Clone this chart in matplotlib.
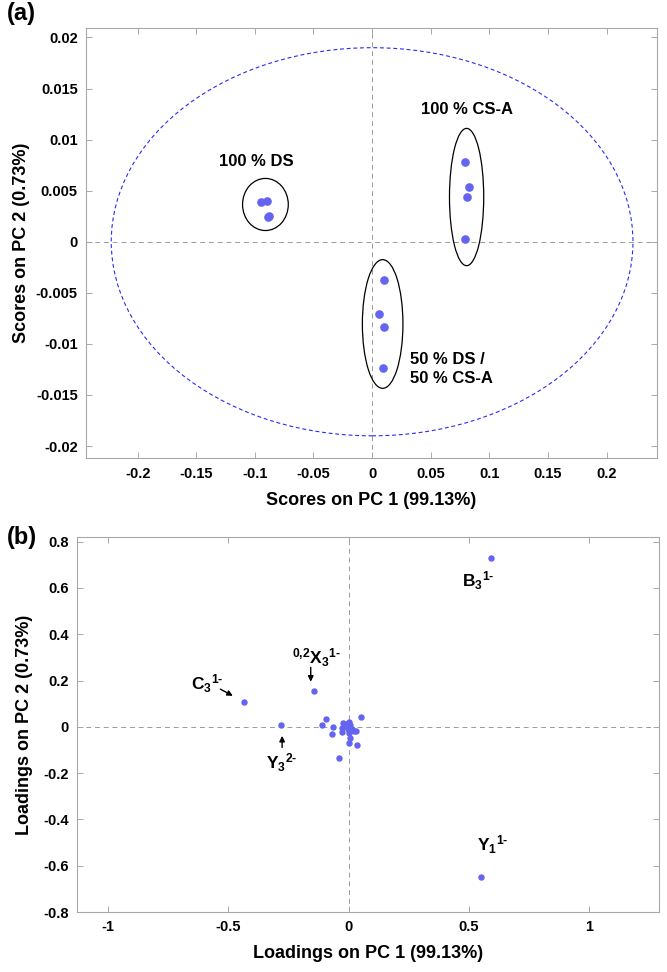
import numpy as np
import matplotlib
matplotlib.use("Agg")
import matplotlib.pyplot as plt
from matplotlib.patches import Ellipse

plt.rcParams['font.family'] = ['Liberation Sans', 'DejaVu Sans']
plt.rcParams['font.weight'] = 'bold'
plt.rcParams['mathtext.fontset'] = 'custom'
plt.rcParams['mathtext.bf'] = 'Liberation Sans:bold'
plt.rcParams['mathtext.rm'] = 'Liberation Sans:bold'
plt.rcParams['mathtext.default'] = 'bf'

# ---- (a) PCA scores ----
ds_pc1 = [-0.0946, -0.0898, -0.0890, -0.0878]
ds_pc2 = [0.00389, 0.00402, 0.00247, 0.00256]
csa_pc1 = [0.0796, 0.0830, 0.0807, 0.0796]
csa_pc2 = [0.00782, 0.00535, 0.00438, 0.00023]
mix_pc1 = [0.0105, 0.0059, 0.0105, 0.0093]
mix_pc2 = [-0.0037, -0.0071, -0.00834, -0.01233]

# group ellipses: center x, center y, width, height
group_ellipses = [(-0.091, 0.00365, 0.039, 0.0051),
                  (0.0806, 0.00438, 0.0292, 0.01344),
                  (0.009, -0.00805, 0.0346, 0.0126)]
# 95% confidence limit ellipse
conf_ellipse = (0.0, 0.0, 0.445, 0.038)

score_xticks = [-0.2, -0.15, -0.1, -0.05, 0, 0.05, 0.1, 0.15, 0.2]
score_yticks = [-0.02, -0.015, -0.01, -0.005, 0, 0.005, 0.01, 0.015, 0.02]

# ---- (b) PCA loadings ----
load_pc1 = [-0.437, -0.144, -0.280, 0.59, 0.548,
            -0.096, -0.112, -0.065, -0.068, -0.025, -0.021, 0.003, 0.006,
            -0.026, -0.004, 0.012, 0.021, 0.031, 0.002, 0.051, 0.004,
            -0.027, -0.015, 0.003, 0.036, -0.040]
load_pc2 = [0.107, 0.155, 0.010, 0.73, -0.65,
            0.033, 0.006, 0.000, -0.033, 0.015, 0.004, 0.019, 0.007,
            -0.023, -0.010, -0.010, -0.019, -0.020, -0.027, 0.041, -0.049,
            -0.007, 0.013, -0.071, -0.079, -0.134]

load_xticks = [-1, -0.5, 0, 0.5, 1]
load_yticks = [-0.8, -0.6, -0.4, -0.2, 0, 0.2, 0.4, 0.6, 0.8]

HY = '\u2010'  # plain hyphen for charge signs
ion_labels = [r'C$_3$$^{1' + HY + '}$', r'$^{0{,}2}$X$_3$$^{1' + HY + '}$',
              r'Y$_3$$^{2' + HY + '}$', r'B$_3$$^{1' + HY + '}$',
              r'Y$_1$$^{1' + HY + '}$']
ion_label_pos = [(-0.654, 0.185), (-0.235, 0.30), (-0.343, -0.154),
                 (0.472, 0.63), (0.534, -0.51)]
ion_arrows = [((-0.534, 0.163), (-0.482, 0.134)),
              ((-0.158, 0.257), (-0.158, 0.195)),
              ((-0.277, -0.089), (-0.277, -0.039))]

dot_color = '#6464f0'
grid_color = '#9a9a9a'
spine_color = '#a8a8a8'


def fmt(v):
    return '0' if v == 0 else f"{round(v, 6):g}"


def style_axes(ax, xticks, yticks):
    ax.set_xticks(xticks)
    ax.set_yticks(yticks)
    ax.set_xticklabels([fmt(v) for v in xticks])
    ax.set_yticklabels([fmt(v) for v in yticks])
    ax.tick_params(direction='in', length=4, width=0.7, color=spine_color,
                   top=True, right=True, labelsize=10.5, pad=6)
    for s in ax.spines.values():
        s.set_color(spine_color)
        s.set_linewidth(0.8)
    for lbl in ax.get_xticklabels() + ax.get_yticklabels():
        lbl.set_fontweight('bold')


fig = plt.figure(figsize=(6.67, 9.72), dpi=100)

# ---------------- panel (a) ----------------
ax1 = fig.add_axes([0.129, 0.5285, 0.856, 0.4424])
ax1.axhline(0, color=grid_color, ls=(0, (5, 4)), lw=0.7, zorder=1)
ax1.axvline(0, color=grid_color, ls=(0, (5, 4)), lw=0.7, zorder=1)
cx, cy, cw, ch = conf_ellipse
ax1.add_patch(Ellipse((cx, cy), cw, ch, fill=False, ec='#2a2af5',
                      ls=(0, (3.5, 2.5)), lw=0.8, zorder=2))
for (ex, ey, ew, eh) in group_ellipses:
    ax1.add_patch(Ellipse((ex, ey), ew, eh, fill=False, ec='black', lw=0.9, zorder=3))
for xs, ys in [(ds_pc1, ds_pc2), (csa_pc1, csa_pc2), (mix_pc1, mix_pc2)]:
    ax1.plot(xs, ys, 'o', ms=5.2, color=dot_color, mec=dot_color, zorder=4)

ax1.text(-0.099, 0.0079, '100 % DS', ha='center', va='center', fontsize=12,
         fontweight='bold')
ax1.text(0.0414, 0.0129, '100 % CS-A', ha='left', va='center', fontsize=12,
         fontweight='bold')
ax1.text(0.0323, -0.01245, '50 % DS /\n50 % CS-A', ha='left', va='center',
         fontsize=12, fontweight='bold', linespacing=1.4)

ax1.set_xlim(-0.244, 0.243)
ax1.set_ylim(-0.0212, 0.0209)
style_axes(ax1, score_xticks, score_yticks)
ax1.set_xlabel('Scores on PC 1 (99.13%)', fontsize=13, fontweight='bold', labelpad=8)
ax1.set_ylabel('Scores on PC 2 (0.73%)', fontsize=13, fontweight='bold')
ax1.yaxis.set_label_coords(-0.098, 0.5)
fig.text(0.010, 0.986, '(a)', fontsize=17, fontweight='bold', va='center')

# ---------------- panel (b) ----------------
ax2 = fig.add_axes([0.1154, 0.0617, 0.8726, 0.3858])
ax2.axhline(0, color=grid_color, ls=(0, (5, 4)), lw=0.7, zorder=1)
ax2.axvline(0, color=grid_color, ls=(0, (5, 4)), lw=0.7, zorder=1)
ax2.plot(load_pc1, load_pc2, 'o', ms=3.6, color=dot_color, mec=dot_color, zorder=4)

for lbl, (lx, ly) in zip(ion_labels, ion_label_pos):
    ax2.text(lx, ly, lbl, ha='left', va='center', fontsize=12.5)
for start, end in ion_arrows:
    ax2.annotate('', xy=end, xytext=start,
                 arrowprops=dict(arrowstyle='-|>', color='black', lw=1.0,
                                 mutation_scale=8, shrinkA=0, shrinkB=0))

ax2.set_xlim(-1.13, 1.29)
ax2.set_ylim(-0.8, 0.82)
style_axes(ax2, load_xticks, load_yticks)
ax2.set_xlabel('Loadings on PC 1 (99.13%)', fontsize=13, fontweight='bold', labelpad=8)
ax2.set_ylabel('Loadings on PC 2 (0.73%)', fontsize=13, fontweight='bold')
ax2.yaxis.set_label_coords(-0.076, 0.5)
fig.text(0.010, 0.447, '(b)', fontsize=17, fontweight='bold', va='center')

fig.savefig('out.png', dpi=100)
